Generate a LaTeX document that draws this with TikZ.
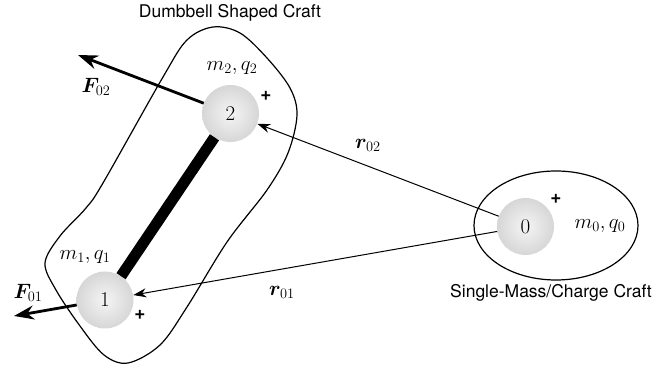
\documentclass[tikz,border=0pt]{standalone}
\usepackage{fontspec}
\usepackage{bm}
\newfontfamily\heros{TeX Gyre Heros}
\usetikzlibrary{arrows.meta}
\tikzset{
  ball/.style={circle, minimum size=57pt, inner sep=0pt, inner color=gray!8, outer color=gray!32, font=\fontsize{21}{21}\selectfont},
  mlab/.style={font=\fontsize{21.5}{21.5}\selectfont, inner sep=0pt},
  plus/.style={font=\heros\fontsize{19}{19}\selectfont\bfseries, inner sep=0pt},
  ttl/.style={font=\heros\fontsize{17.5}{17.5}\selectfont, inner sep=0pt},
  force/.style={line width=2.8pt, -{Stealth[length=20pt, width=14pt]}},
  rvec/.style={line width=1pt, -{Stealth[length=13pt, width=9pt]}},
  outline/.style={line width=1.2pt}
}
\begin{document}
\begin{tikzpicture}[x=1pt,y=-1pt]
\useasboundingbox (0,0) rectangle (665,371);
% outlines
\draw[outline] plot[smooth cycle, tension=0.55] coordinates {
 (213,27) (240,33) (267,58) (290,88) (297,115) (288,153) (267,190)
 (227,242) (187,307) (160,345) (128,363) (104,355) (80,326) (56,290)
 (45,263) (60,236) (86,208) (103,183) (163,77) (187,40)};
\draw[outline] (556,225.5) ellipse [x radius=82, y radius=54.5];
% balls
\node[ball] (n2) at (230.5,113.5) {2};
\node[ball] (n1) at (105,300) {1};
\node[ball] (n0) at (525.5,226.5) {0};
% rod
\draw[line width=11pt] (n1) -- (n2);
% forces
\coordinate (f2tip) at (78,55);
\coordinate (f1tip) at (14,316);
\draw[force] (n2) -- (f2tip);
\draw[force] (n1) -- (f1tip);
% position vectors
\draw[rvec] (n0) -- (n2);
\draw[rvec] (n0) -- (n1);
% labels
\node[mlab] (lf2) at (96,87) {$\bm{F}_{02}$};
\node[mlab] (lf1) at (28,293) {$\bm{F}_{01}$};
\node[mlab] (lr2) at (368,145) {$\bm{r}_{02}$};
\node[mlab] (lr1) at (282,292) {$\bm{r}_{01}$};
\node[mlab] (lm2) at (232,68) {$m_2,q_2$};
\node[mlab] (lm1) at (85,257) {$m_1,q_1$};
\node[mlab] (lm0) at (600,226) {$m_0,q_0$};
\node[plus] (p2) at (266,96) {+};
\node[plus] (p1) at (140,315) {+};
\node[plus] (p0) at (556,199) {+};
\node[ttl] (t1) at (230,13) {Dumbbell Shaped Craft};
\node[ttl] (t0) at (551,293) {Single-Mass/Charge Craft};
\end{tikzpicture}
\end{document}
